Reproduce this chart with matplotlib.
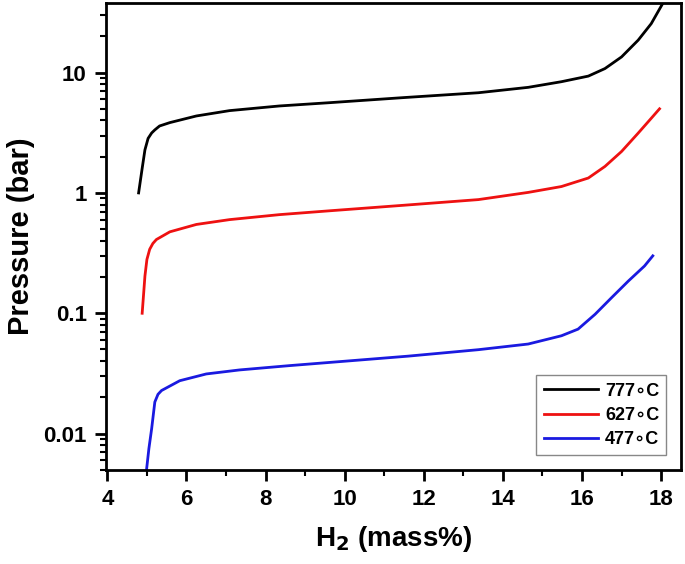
#pressure-composition isotherms, H2 absorption
import numpy as np
import matplotlib.pyplot as plt
from matplotlib.ticker import FixedLocator, LogLocator, NullFormatter, FuncFormatter

plt.rcParams['font.family'] = ['Liberation Sans', 'DejaVu Sans']
plt.rcParams['font.weight'] = 'bold'

#777 C isotherm
h2_777 = [4.79, 4.88, 4.95, 5.03, 5.12, 5.2, 5.32, 5.58, 6.25, 7.09, 8.35, 9.61, 11.5, 13.38,
          14.64, 15.48, 16.16, 16.58, 17.0, 17.42, 17.75, 18.05]
p_777 = [1.0, 1.6, 2.28, 2.84, 3.15, 3.34, 3.6, 3.84, 4.36, 4.83, 5.28, 5.62, 6.2, 6.8,
         7.54, 8.4, 9.35, 10.8, 13.5, 18.6, 25.5, 38.0]
#627 C isotherm
h2_627 = [4.88, 4.92, 4.95, 5.0, 5.07, 5.15, 5.24, 5.58, 6.25, 7.09, 8.35, 9.61, 11.5, 13.38,
          14.64, 15.48, 16.16, 16.58, 17.0, 17.42, 17.75, 17.96]
p_627 = [0.1, 0.15, 0.204, 0.28, 0.34, 0.38, 0.41, 0.475, 0.547, 0.60, 0.66, 0.71, 0.79, 0.88,
         1.01, 1.13, 1.33, 1.66, 2.21, 3.14, 4.17, 5.0]
#477 C isotherm
h2_477 = [4.99, 5.05, 5.12, 5.2, 5.28, 5.37, 5.83, 6.5, 7.34, 8.6, 9.86, 11.6, 13.38, 14.64,
          15.48, 15.9, 16.33, 16.75, 17.17, 17.58, 17.79]
p_477 = [0.005, 0.0075, 0.011, 0.0183, 0.0212, 0.0228, 0.0275, 0.0313, 0.0338, 0.0367,
         0.0396, 0.044, 0.0498, 0.0555, 0.065, 0.0738, 0.098, 0.135, 0.185, 0.247, 0.3]

series = [(h2_777, p_777, 'black', '777\u2218C'),
          (h2_627, p_627, '#ee1111', '627\u2218C'),
          (h2_477, p_477, '#1a1ae0', '477\u2218C')]

fig = plt.figure(figsize=(6.85, 5.64), dpi=100)
ax = fig.add_axes([0.155, 0.167, 0.839, 0.828])

for x, y, c, lab in series:
    ax.plot(x, y, color=c, lw=2, label=lab)

ax.set_yscale('log')
ax.set_xlim(3.97, 18.5)
ax.set_ylim(0.005, 38)

ax.xaxis.set_major_locator(FixedLocator([4, 6, 8, 10, 12, 14, 16, 18]))
ax.xaxis.set_minor_locator(FixedLocator([5, 7, 9, 11, 13, 15, 17]))
ax.yaxis.set_major_locator(FixedLocator([0.01, 0.1, 1, 10]))
ax.yaxis.set_major_formatter(FuncFormatter(lambda v, p: '%g' % v))
ax.yaxis.set_minor_locator(LogLocator(base=10, subs=np.arange(2, 10)))
ax.yaxis.set_minor_formatter(NullFormatter())

ax.tick_params(which='major', direction='out', length=8, width=2, labelsize=16, pad=6)
ax.tick_params(which='minor', direction='out', length=4, width=1.5)
for s in ax.spines.values():
    s.set_linewidth(2)

ax.set_xlabel('H$_\\mathbf{2}$ (mass%)', fontsize=20, fontweight='bold', labelpad=10)
ax.set_ylabel('Pressure (bar)', fontsize=21, fontweight='bold', labelpad=6)

leg = ax.legend(loc='lower right', fontsize=13, handlelength=3.0, fancybox=False,
                edgecolor='#888888', framealpha=1, borderaxespad=0.8,
                labelspacing=0.4, handletextpad=0.4)
leg.get_frame().set_linewidth(1)

fig.savefig('out.png', dpi=100)
